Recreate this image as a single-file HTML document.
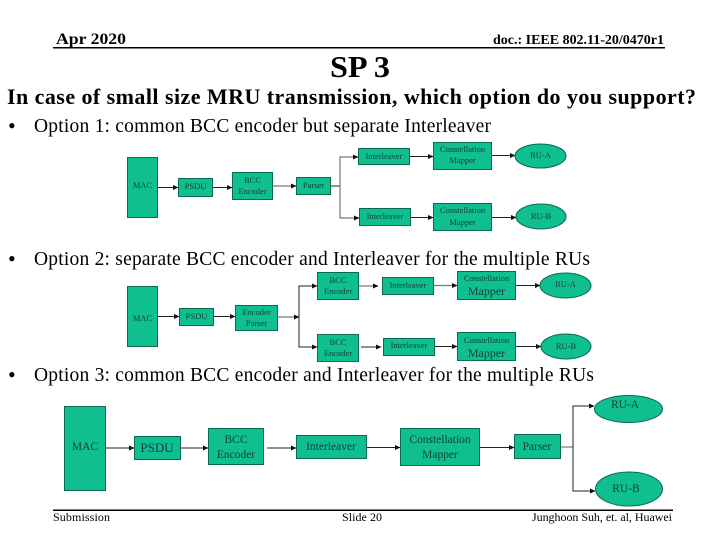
<!DOCTYPE html>
<html>
<head>
<meta charset="utf-8">
<style>
html,body{margin:0;padding:0;background:#fff;}
svg{display:block;}
text{font-family:"Liberation Serif",serif;}
.b{fill:#0fbf8f;stroke:#086a50;stroke-width:1;}
.l{stroke:#222;stroke-width:1;fill:none;}
.g{stroke:#777;stroke-width:1.2;fill:none;}
.t{fill:#0a4535;text-anchor:middle;}
.s1 .t{font-size:8.5px;}
.s2 .t{font-size:8.5px;}
.s3 .t{font-size:11.5px;}
.s1,.s2,.s3{filter:blur(0.3px);}
</style>
</head>
<body>
<svg width="720" height="540" viewBox="0 0 720 540" xmlns="http://www.w3.org/2000/svg">
<defs>
<marker id="a" markerWidth="6" markerHeight="6" refX="5" refY="3" orient="auto" markerUnits="userSpaceOnUse"><path d="M0,0.5 L5.5,3 L0,5.5 Z" fill="#111"/></marker>
</defs>
<rect width="720" height="540" fill="#fff"/>

<text x="56" y="44" font-size="16" font-weight="bold" textLength="70" lengthAdjust="spacingAndGlyphs">Apr 2020</text>
<text x="493" y="44" font-size="13.5" font-weight="bold" textLength="171" lengthAdjust="spacingAndGlyphs">doc.: IEEE 802.11-20/0470r1</text>
<rect x="53" y="47" width="612" height="1.5" fill="#000"/>
<text x="330" y="77" font-size="31" font-weight="bold" textLength="60" lengthAdjust="spacingAndGlyphs">SP 3</text>
<text x="7" y="104" font-size="22" font-weight="bold" textLength="689" lengthAdjust="spacing">In case of small size MRU transmission, which option do you support?</text>

<g font-size="19.500">
<text x="8" y="133" font-size="22">•</text>
<text x="34" y="132" textLength="457" lengthAdjust="spacing">Option 1: common BCC encoder but separate Interleaver</text>
<text x="8" y="266" font-size="22">•</text>
<text x="34" y="265" textLength="556" lengthAdjust="spacing">Option 2: separate BCC encoder and Interleaver for the multiple RUs</text>
<text x="8" y="382" font-size="22">•</text>
<text x="34" y="381" textLength="560" lengthAdjust="spacing">Option 3: common BCC encoder and Interleaver for the multiple RUs</text>
</g>

<!-- Diagram 1 -->
<g class="s1">
<path class="l" d="M158,187.500H178" marker-end="url(#a)"/>
<path class="l" d="M213,187.500H232" marker-end="url(#a)"/>
<path class="g" d="M273,186H296" marker-end="url(#a)"/>
<path class="l" d="M331,186H340"/>
<path class="g" d="M340,186V157H358" marker-end="url(#a)"/>
<path class="g" d="M340,186V218H359" marker-end="url(#a)"/>
<path class="l" d="M410,156.500H433" marker-end="url(#a)"/>
<path class="l" d="M411,217.500H433" marker-end="url(#a)"/>
<path class="l" d="M492,155.500H515" marker-end="url(#a)"/>
<path class="l" d="M492,217.500H516" marker-end="url(#a)"/>
<rect class="b" x="127.500" y="157.500" width="30" height="60"/>
<rect class="b" x="178.500" y="178.500" width="34" height="18"/>
<rect class="b" x="232.500" y="172.500" width="40" height="27"/>
<rect class="b" x="296.500" y="177.500" width="34" height="17"/>
<rect class="b" x="358.500" y="148.500" width="51" height="16"/>
<rect class="b" x="433.500" y="142.500" width="58" height="27"/>
<ellipse class="b" cx="540.500" cy="156" rx="25.500" ry="12"/>
<rect class="b" x="359.500" y="208.500" width="51" height="17"/>
<rect class="b" x="433.500" y="203.500" width="58" height="27"/>
<ellipse class="b" cx="541" cy="216.500" rx="25" ry="12.500"/>
<text class="t" x="142.500" y="188">MAC</text>
<text class="t" x="195.500" y="189">PSDU</text>
<text class="t" x="252.500" y="183">BCC</text>
<text class="t" x="252.500" y="194">Encoder</text>
<text class="t" x="313.500" y="188">Parser</text>
<text class="t" x="384" y="159">Interleaver</text>
<text class="t" x="462.500" y="152">Constellation</text>
<text class="t" x="462.500" y="163">Mapper</text>
<text class="t" x="540.500" y="158">RU-A</text>
<text class="t" x="385" y="219">Interleaver</text>
<text class="t" x="462.500" y="213">Constellation</text>
<text class="t" x="462.500" y="225">Mapper</text>
<text class="t" x="541" y="219">RU-B</text>
</g>

<!-- Diagram 2 -->
<g class="s2">
<path class="l" d="M158,316.500H179" marker-end="url(#a)"/>
<path class="l" d="M214,316.500H235" marker-end="url(#a)"/>
<path class="g" d="M278,317H299" marker-end="url(#a)"/>
<path class="l" d="M317,286H299V347H317"/>
<path class="l" d="M311,286H317" marker-end="url(#a)"/>
<path class="l" d="M311,347H317" marker-end="url(#a)"/>
<path class="g" d="M359,286H378" marker-end="url(#a)"/>
<path class="g" d="M434,285.500H457" marker-end="url(#a)"/>
<path class="l" d="M516,285.500H540" marker-end="url(#a)"/>
<path class="l" d="M361,347H381" marker-end="url(#a)"/>
<path class="l" d="M435,346.500H457" marker-end="url(#a)"/>
<path class="l" d="M516,346.500H541" marker-end="url(#a)"/>
<rect class="b" x="127.500" y="286.500" width="30" height="60"/>
<rect class="b" x="179.500" y="308.500" width="34" height="17"/>
<rect class="b" x="235.500" y="305.500" width="42" height="25"/>
<rect class="b" x="317.500" y="272.500" width="41" height="27"/>
<rect class="b" x="382.500" y="277.500" width="51" height="17"/>
<rect class="b" x="457.500" y="271.500" width="58" height="28"/>
<ellipse class="b" cx="565.500" cy="285.500" rx="25.500" ry="12.500"/>
<rect class="b" x="317.500" y="334.500" width="41" height="27"/>
<rect class="b" x="383.500" y="338.500" width="51" height="17"/>
<rect class="b" x="457.500" y="332.500" width="58" height="28"/>
<ellipse class="b" cx="566" cy="346.500" rx="25" ry="12.500"/>
<text class="t" x="142.500" y="321">MAC</text>
<text class="t" x="196.500" y="319">PSDU</text>
<text class="t" x="256.500" y="315">Encoder</text>
<text class="t" x="256.500" y="326">Parser</text>
<text class="t" x="338" y="283">BCC</text>
<text class="t" x="338" y="294">Encoder</text>
<text class="t" x="408" y="288">Interleaver</text>
<text class="t" x="486.500" y="281">Constellation</text>
<text class="t" x="486.500" y="295" style="font-size:12px">Mapper</text>
<text class="t" x="565.500" y="287">RU-A</text>
<text class="t" x="338" y="345">BCC</text>
<text class="t" x="338" y="356">Encoder</text>
<text class="t" x="409" y="348">Interleaver</text>
<text class="t" x="486.500" y="343">Constellation</text>
<text class="t" x="486.500" y="357" style="font-size:12px">Mapper</text>
<text class="t" x="566" y="349">RU-B</text>
</g>

<!-- Diagram 3 -->
<g class="s3">
<path class="l" d="M106,448H134" marker-end="url(#a)"/>
<path class="l" d="M181,448H208" marker-end="url(#a)"/>
<path class="l" d="M267,448H296" marker-end="url(#a)"/>
<path class="l" d="M367,447.500H400" marker-end="url(#a)"/>
<path class="l" d="M480,447.500H514" marker-end="url(#a)"/>
<path class="g" d="M561,447H573" stroke-width="1.500"/>
<path class="l" d="M573,447V406H594" marker-end="url(#a)"/>
<path class="l" d="M573,447V491H595" marker-end="url(#a)"/>
<rect class="b" x="64.500" y="406.500" width="41" height="84"/>
<rect class="b" x="134.500" y="436.500" width="46" height="23"/>
<rect class="b" x="208.500" y="428.500" width="55" height="36"/>
<rect class="b" x="296.500" y="435.500" width="70" height="23"/>
<rect class="b" x="400.500" y="428.500" width="79" height="37"/>
<rect class="b" x="514.500" y="434.500" width="46" height="24"/>
<ellipse class="b" cx="628.500" cy="409" rx="34" ry="13.500"/>
<ellipse class="b" cx="629" cy="489" rx="33.500" ry="17"/>
<text class="t" x="85" y="450">MAC</text>
<text class="t" x="157" y="452" style="font-size:13px">PSDU</text>
<text class="t" x="236" y="443">BCC</text>
<text class="t" x="236" y="458">Encoder</text>
<text class="t" x="331" y="450">Interleaver</text>
<text class="t" x="440" y="443">Constellation</text>
<text class="t" x="440" y="458">Mapper</text>
<text class="t" x="537" y="450">Parser</text>
<text class="t" x="625" y="408">RU-A</text>
<text class="t" x="626" y="492">RU-B</text>
</g>

<rect x="53" y="509.500" width="620" height="1.500" fill="#000"/>
<text x="53" y="521" font-size="12" textLength="57" lengthAdjust="spacing">Submission</text>
<text x="342" y="521" font-size="12" textLength="40" lengthAdjust="spacing">Slide 20</text>
<text x="532" y="521" font-size="12" textLength="140" lengthAdjust="spacing">Junghoon Suh, et. al, Huawei</text>
</svg>
</body>
</html>
